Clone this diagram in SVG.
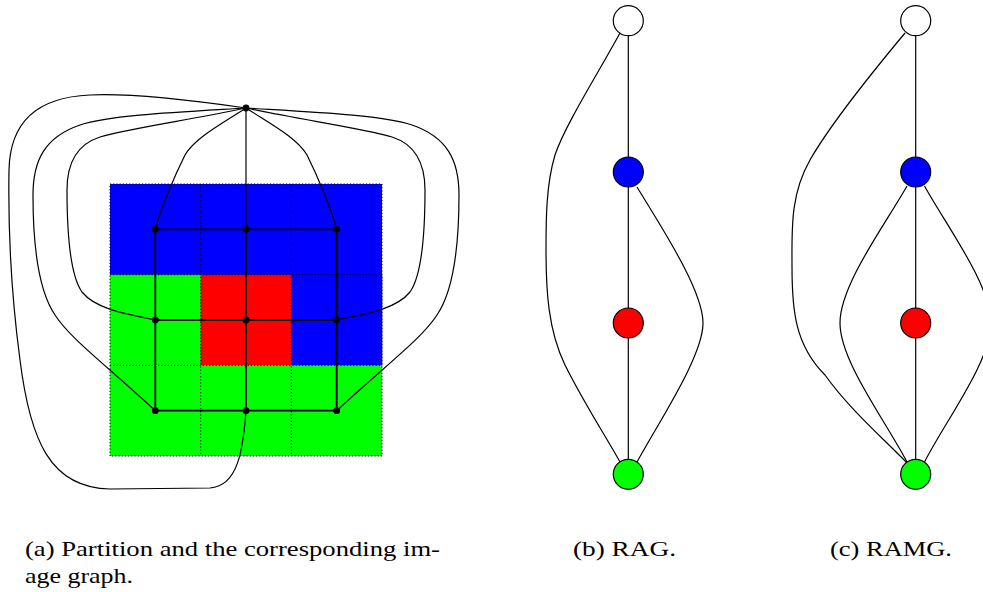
<svg xmlns="http://www.w3.org/2000/svg" width="983" height="592" viewBox="0 0 983 592">
<style>
.e{fill:none;stroke:#000;stroke-width:1.2}
.g{fill:none;stroke:#000;stroke-width:1.8}
.d{fill:none;stroke:#000;stroke-width:1;stroke-dasharray:1.2,2}
.n{fill:#000}
.c{stroke:#000;stroke-width:1.2}
.t{font-family:"Liberation Serif","DejaVu Serif",serif;font-size:21px;fill:#000}
</style>
<rect width="983" height="592" fill="#fff"/>
<g id="partition">
<rect x="110" y="184" width="272" height="91" fill="#0000ff"/>
<rect x="110" y="274.7" width="91" height="91" fill="#00ff00"/>
<rect x="200.7" y="274.7" width="91" height="91" fill="#ff0000"/>
<rect x="291.3" y="274.7" width="91" height="91" fill="#0000ff"/>
<rect x="110" y="365.3" width="272" height="90.7" fill="#00ff00"/>
<path class="d" d="M110,184H382V456H110Z M200.7,184V456 M291.3,184V456 M110,274.7H382 M110,365.3H382"/>
</g>
<g id="connectors">
<path class="g" d="M155.3,229.3H336.7 M155.3,320H336.7 M155.3,410.7H336.7 M155.3,229.3V410.7 M246,229.3V410.7 M336.7,229.3V410.7"/>
<path class="e" stroke="#444" d="M246,108V229.3"/>
<path class="e" d="M246,108 C190,100 130,93 90,95 C40,97 10,120 9,170 C8,230 12,300 20,360 C30,440 50,488 110,489 L210,488 C238,486 243,450 246,411"/>
<g id="leftcurves">
<path class="e" d="M246,108 C180,112 110,115 80,125 C45,137 33,160 33,195 C33,240 38,290 55,315 C70,338 100,360 155.3,410.7"/>
<path class="e" d="M246,108 C190,120 130,128 100,137 C75,145 67,165 67,190 C67,230 70,275 82,292 C95,308 120,313 155.3,320"/>
<path class="e" d="M246,108 C220,125 195,138 185,155 C175,175 160,210 155.3,229.3"/>
</g>
<g transform="translate(492,0) scale(-1,1)">
<path class="e" d="M246,108 C180,112 110,115 80,125 C45,137 33,160 33,195 C33,240 38,290 55,315 C70,338 100,360 155.3,410.7"/>
<path class="e" d="M246,108 C190,120 130,128 100,137 C75,145 67,165 67,190 C67,230 70,275 82,292 C95,308 120,313 155.3,320"/>
<path class="e" d="M246,108 C220,125 195,138 185,155 C175,175 160,210 155.3,229.3"/>
</g>
<path class="e" d="M628.3,20.7V474.3"/>
<path class="e" d="M620,33 C600,70 565,125 555,155 C546,185 546,220 546,250 C546,290 548,330 565,365 C585,405 605,435 620,462"/>
<path class="e" d="M637,187 C660,225 703,290 703,323 C703,356 660,420 637,462"/>
<path class="e" d="M915.7,20.7V474.3"/>
<path class="e" d="M905,33 C870,75 830,125 810,160 C790,195 792,230 792,267 C792,310 795,345 825,375 C850,410 885,440 907,463"/>
<path class="e" d="M907,186 C885,225 840,285 840,323 C840,361 885,420 907,462"/>
<path class="e" d="M924.5,186 C946,225 991,285 991,323 C991,361 946,420 924.5,462"/>
</g>
<g id="imgnodes">
<circle id="v0" class="n" cx="246" cy="108" r="3.4"/>
<circle id="v11" class="n" cx="155.3" cy="229.3" r="3.4"/>
<circle id="v12" class="n" cx="246" cy="229.3" r="3.4"/>
<circle id="v13" class="n" cx="336.7" cy="229.3" r="3.4"/>
<circle id="v21" class="n" cx="155.3" cy="320" r="3.4"/>
<circle id="v22" class="n" cx="246" cy="320" r="3.4"/>
<circle id="v23" class="n" cx="336.7" cy="320" r="3.4"/>
<circle id="v31" class="n" cx="155.3" cy="410.7" r="3.4"/>
<circle id="v32" class="n" cx="246" cy="410.7" r="3.4"/>
<circle id="v33" class="n" cx="336.7" cy="410.7" r="3.4"/>
</g>
<g id="rag-white"><circle class="c" cx="628.3" cy="20.7" r="15" fill="#fff"/></g>
<g id="rag-blue"><circle class="c" cx="628.3" cy="172" r="15" fill="#0000ff"/></g>
<g id="rag-red"><circle class="c" cx="628.3" cy="323" r="15" fill="#ff0000"/></g>
<g id="rag-green"><circle class="c" cx="628.3" cy="474.3" r="15" fill="#00ff00"/></g>
<g id="ramg-white"><circle class="c" cx="915.7" cy="20.7" r="15" fill="#fff"/></g>
<g id="ramg-blue"><circle class="c" cx="915.7" cy="172" r="15" fill="#0000ff"/></g>
<g id="ramg-red"><circle class="c" cx="915.7" cy="323" r="15" fill="#ff0000"/></g>
<g id="ramg-green"><circle class="c" cx="915.7" cy="474.3" r="15" fill="#00ff00"/></g>
<g id="captions">
<text class="t" x="25" y="556" textLength="415" lengthAdjust="spacingAndGlyphs">(a) Partition and the corresponding im-</text>
<text class="t" x="25" y="583" textLength="108" lengthAdjust="spacingAndGlyphs">age graph.</text>
<text class="t" x="573" y="556" textLength="103" lengthAdjust="spacingAndGlyphs">(b) RAG.</text>
<text class="t" x="830" y="556" textLength="122" lengthAdjust="spacingAndGlyphs">(c) RAMG.</text>
</g>
</svg>
